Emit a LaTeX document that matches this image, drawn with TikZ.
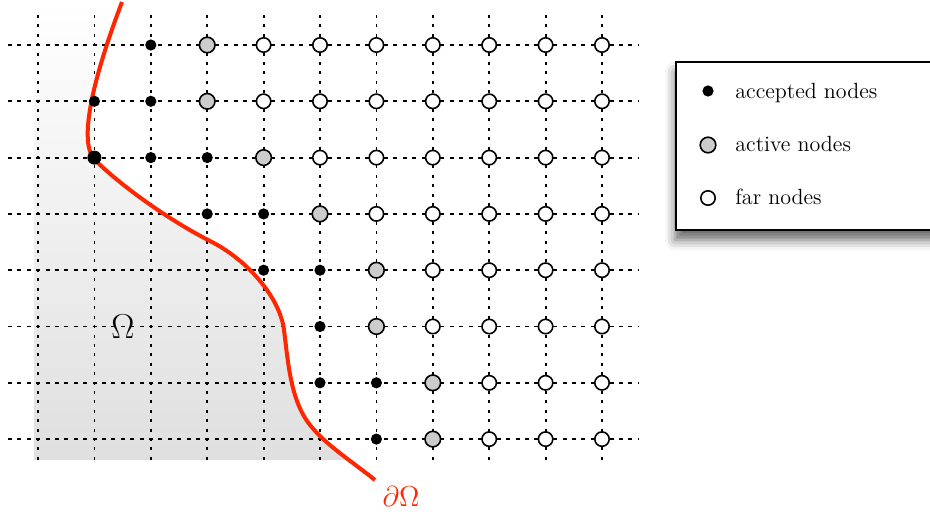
\documentclass[tikz,border=0pt]{standalone}
\usepackage{amsmath}
\usetikzlibrary{shadows.blur}
\usepackage{xcolor}
\definecolor{bdryred}{RGB}{255,38,0}

\begin{document}
\begin{tikzpicture}[x=0.5pt,y=-0.5pt]
			\tikzset{hline/.style = {line width=0.9pt,dash pattern=on 2pt off 2.7pt}}
			\tikzset{vline/.style = {line width=0.9pt,dash pattern=on 1.5pt off 3.2pt}}
			\tikzset{accepted/.style = {shape=circle,fill=black,inner sep=0pt,minimum size=5.6pt}}
			\tikzset{active/.style = {shape=circle,draw,line width=0.8pt,fill=black!20,inner sep=0pt,minimum size=7.8pt}}
			\tikzset{far/.style = {shape=circle,draw,line width=0.8pt,fill=white,inner sep=0pt,minimum size=7.2pt}}
			\tikzset{legendtext/.style = {anchor=base west,inner sep=0pt,font=\fontsize{11}{13}\selectfont}}
			\useasboundingbox (0,0) rectangle (930,514);
			% domain
			\begin{scope}
				\clip (30,0) rectangle (400,459);
				\shade[top color=white,bottom color=black!13] (34,0) -- (122,2)
					.. controls (100,60) and (75,140) .. (95,160)
					.. controls (118,183) and (165,218) .. (210,241)
					.. controls (248,260) and (280,298) .. (284,330)
					.. controls (288,360) and (290,400) .. (310,425)
					.. controls (326,445) and (350,460) .. (375,480) -- (34,480) -- cycle;
			\end{scope}
			% grid
			\foreach \c in {0,...,10}
				\draw[vline] ({38+56.4*\c},15) -- ({38+56.4*\c},463);
			\foreach \r in {0,...,7}
				\draw[hline] (8,{45+56.3*\r}) -- (638,{45+56.3*\r});
			% boundary
			\draw[bdryred,line width=2pt] (122,2)
				.. controls (100,60) and (75,140) .. (95,160)
				.. controls (118,183) and (165,218) .. (210,241)
				.. controls (248,260) and (280,298) .. (284,330)
				.. controls (288,360) and (290,400) .. (310,425)
				.. controls (326,445) and (350,460) .. (375,480);
			% nodes
			\foreach \r/\acc/\act/\farfrom in {0/{2}/3/4, 1/{1,2}/3/4, 2/{1,2,3}/4/5, 3/{3,4}/5/6,
					4/{4,5}/6/7, 5/{5}/6/7, 6/{5,6}/7/8, 7/{6}/7/8}{
				\foreach \c in \acc
					\node[accepted] (n-\r-\c) at ({38+56.4*\c},{45+56.3*\r}) {};
				\node[active] (n-\r-\act) at ({38+56.4*\act},{45+56.3*\r}) {};
				\foreach \c in {\farfrom,...,10}
					\node[far] (n-\r-\c) at ({38+56.4*\c},{45+56.3*\r}) {};
			}
			\node[accepted,minimum size=7pt] at (n-2-1) {};
			
			\node[font=\LARGE] (omega) at (123,327) {$\Omega$};
			\node[font=\Large,text=bdryred] (domega) at (401,496) {$\partial\Omega$};
			
			% legend
			\draw[line width=1pt,fill=white,blur shadow={shadow xshift=-0.5pt,shadow yshift=-5pt,shadow blur radius=5pt,shadow opacity=60}]
				(676,62) rectangle (960,230);
			\node[accepted] (k1) at (708,91) {};
			\node[active] (k2) at (708,145) {};
			\node[far] (k3) at (708,198) {};
			\node[legendtext] (t1) at (735,98) {accepted nodes};
			\node[legendtext] (t2) at (735,151) {active nodes};
			\node[legendtext] (t3) at (735,204) {far nodes};
			\end{tikzpicture}
\end{document}
